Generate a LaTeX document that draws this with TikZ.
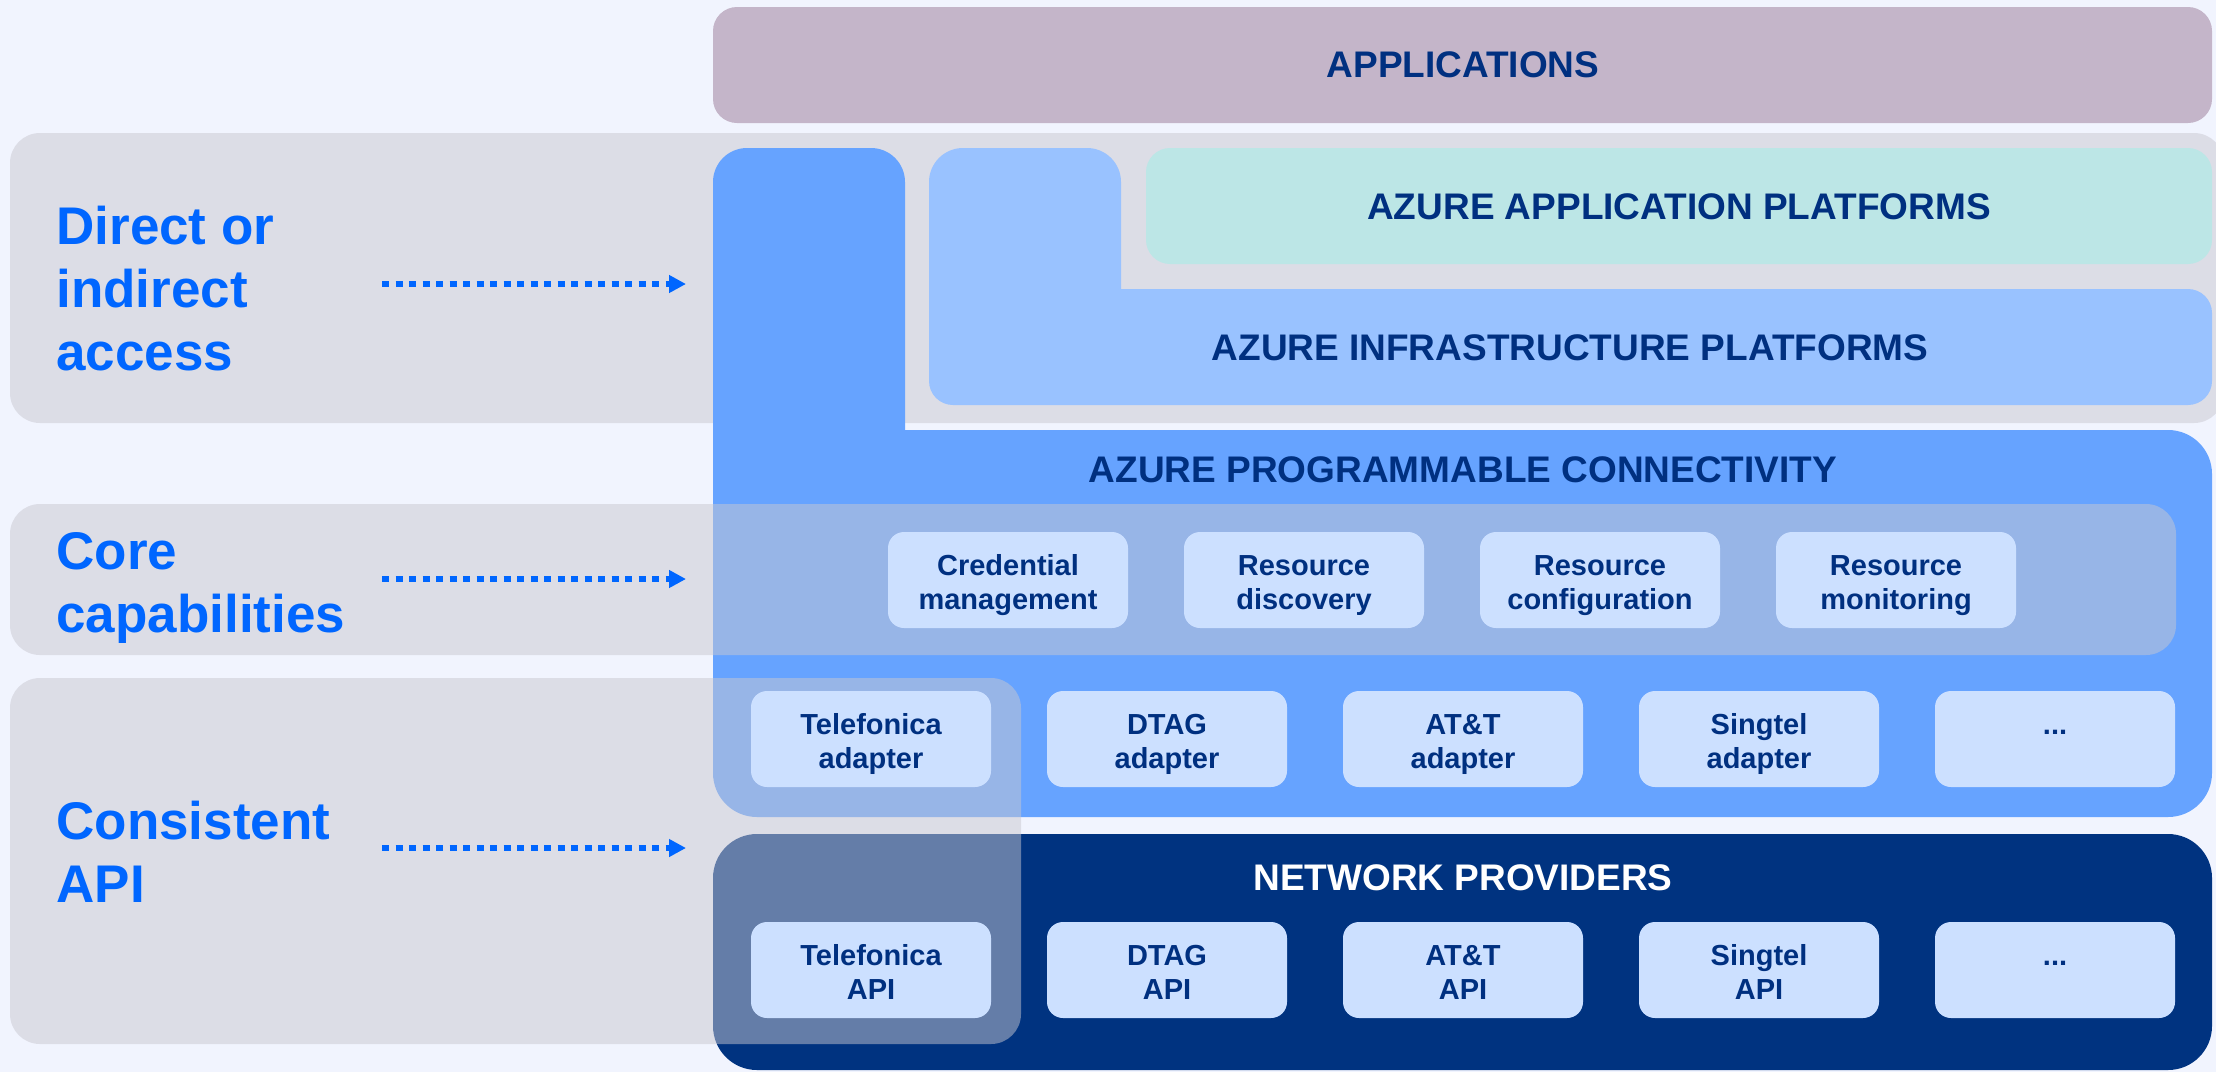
\documentclass[tikz,border=0pt]{standalone}
\usepackage{fontspec}
\setmainfont{Liberation Sans}
\usetikzlibrary{arrows.meta}
\definecolor{bgc}{RGB}{241,244,254}
\definecolor{appc}{RGB}{196,181,201}
\definecolor{bandc}{RGB}{200,199,208}
\definecolor{bluec}{RGB}{102,163,255}
\definecolor{lbluec}{RGB}{153,194,255}
\definecolor{tealc}{RGB}{188,230,230}
\definecolor{navyc}{RGB}{0,51,128}
\definecolor{boxc}{RGB}{204,224,255}
\definecolor{txtc}{RGB}{0,48,128}
\definecolor{sidec}{RGB}{0,102,255}
\newcommand{\bt}[2]{\rule{0pt}{16pt}#1\\#2\vphantom{g}}
\begin{document}
\begin{tikzpicture}[x=0.5pt,y=-0.5pt,
  title/.style={font=\fontsize{18.5}{22}\selectfont\bfseries, text=txtc, inner sep=0pt},
  cell/.style={fill=boxc, rounded corners=8pt, minimum width=120pt, minimum height=48pt, inner sep=0pt, align=center, font=\fontsize{14.5}{17}\selectfont\bfseries, text=txtc},
  side/.style={font=\fontsize{26.5}{31.5}\selectfont\bfseries, text=sidec, align=left, anchor=base west, inner sep=0pt},
  arr/.style={draw=sidec, line width=3pt, dash pattern=on 3.5pt off 3.25pt, -{Triangle[length=8.5pt,width=8.5pt,fill=sidec]}},
  band/.style={fill=bandc, fill opacity=0.5, rounded corners=15pt}]
\fill[bgc] (0,0) rectangle (2216,1072);
\useasboundingbox (0,0) rectangle (2216,1072);
% applications
\fill[appc, rounded corners=12pt] (713,7) rectangle (2212,123);
% band 1 (behind)
\fill[band] (10,133) rectangle (2224,423);
% programmable connectivity L
\fill[bluec, rounded corners=17pt] (713,148) rectangle (905,650);
\fill[bluec, rounded corners=22pt] (713,430) rectangle (2212,817);
% infrastructure L
\fill[lbluec, rounded corners=17pt] (929,148) rectangle (1121,385);
\fill[lbluec, rounded corners=12pt] (929,289) rectangle (2212,405);
% application platforms
\fill[tealc, rounded corners=12pt] (1146,148) rectangle (2212,264);
% network providers
\fill[navyc, rounded corners=22pt] (713,834) rectangle (2212,1070);
% bands 2 and 3 (in front, translucent)
\fill[band] (10,504) rectangle (2176,655);
\fill[band] (10,678) rectangle (1021,1044);
% titles
\node[title] (apps) at (1463,65) {APPLICATIONS};
\node[title] (aap) at (1679,207) {AZURE APPLICATION PLATFORMS};
\node[title] (aip) at (1570,348) {AZURE INFRASTRUCTURE PLATFORMS};
\node[title] (apc) at (1463,470) {AZURE PROGRAMMABLE CONNECTIVITY};
\node[title, text=white] (np) at (1463,878) {NETWORK PROVIDERS};
% capabilities
\node[cell] (c1) at (1008,580) {\bt{Credential}{management}};
\node[cell] (c2) at (1304,580) {\bt{Resource}{discovery}};
\node[cell] (c3) at (1600,580) {\bt{Resource}{configuration}};
\node[cell] (c4) at (1896,580) {\bt{Resource}{monitoring}};
% adapters
\node[cell] (a1) at (871,739) {\bt{Telefonica}{adapter}};
\node[cell] (a2) at (1167,739) {\bt{DTAG}{adapter}};
\node[cell] (a3) at (1463,739) {\bt{AT\&T}{adapter}};
\node[cell] (a4) at (1759,739) {\bt{Singtel}{adapter}};
\node[cell] (a5) at (2055,739) {\bt{...}{}};
% APIs
\node[cell] (p1) at (871,970) {\bt{Telefonica}{API}};
\node[cell] (p2) at (1167,970) {\bt{DTAG}{API}};
\node[cell] (p3) at (1463,970) {\bt{AT\&T}{API}};
\node[cell] (p4) at (1759,970) {\bt{Singtel}{API}};
\node[cell] (p5) at (2055,970) {\bt{...}{}};
% side labels (anchored at the baseline of the last line)
\node[side] (l1) at (56,370) {Direct or\\indirect\\access};
\node[side] (l2) at (56,632) {Core\\capabilities};
\node[side] (l3) at (56,902) {Consistent\\API};
% arrows
\coordinate (s1) at (382,284); \coordinate (e1) at (686,284);
\coordinate (s2) at (382,579); \coordinate (e2) at (686,579);
\coordinate (s3) at (382,848); \coordinate (e3) at (686,848);
\draw[arr] (s1) -- (e1);
\draw[arr] (s2) -- (e2);
\draw[arr] (s3) -- (e3);
\end{tikzpicture}
\end{document}
